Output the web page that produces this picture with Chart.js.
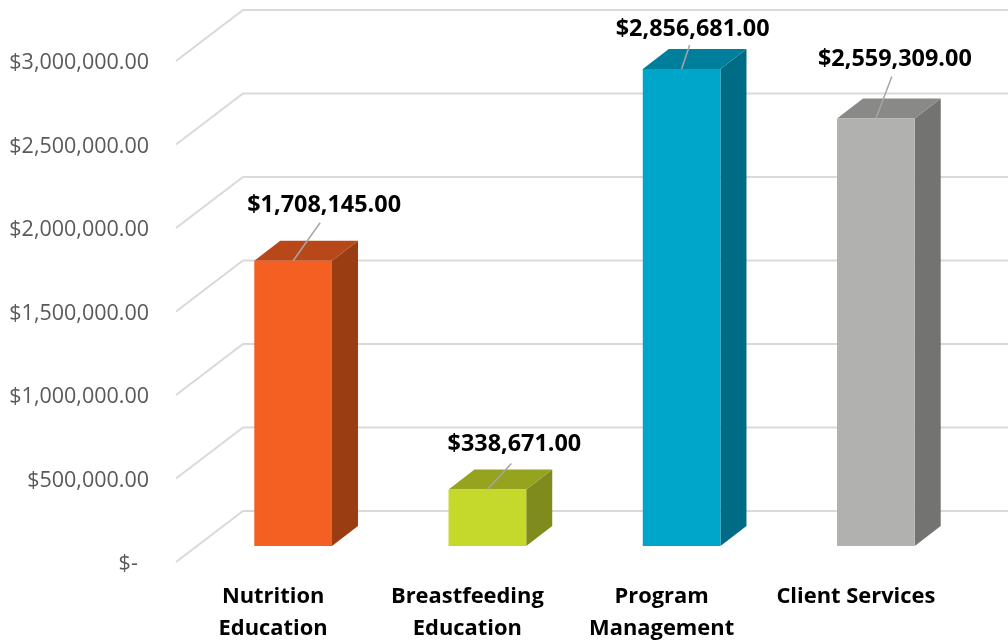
<!DOCTYPE html>
<html>
<head>
<meta charset="utf-8">
<style>html,body{margin:0;padding:0;background:#fff}canvas{display:block}</style>
<script src="https://cdn.jsdelivr.net/npm/chart.js@4"></script>
</head>
<body>
<canvas id="c" width="1008" height="640"></canvas>
<script>
const categories = [['Nutrition','Education'],['Breastfeeding','Education'],['Program','Management'],['Client Services']];
const values = [1708145, 338671, 2856681, 2559309];
const tickValues = [0, 500000, 1000000, 1500000, 2000000, 2500000, 3000000];
const frontColors = ['#F36021','#C5D92D','#00A6CA','#B1B1AF'];
const topColors = ['#B8481A','#95A31F','#007F9C','#898987'];
const sideColors = ['#9B3D12','#7F8B1C','#006B84','#737371'];
// callout placement relative to each bar's top centre
const labelOffsets = [[31,-55],[27,-45],[11,-40],[19,-59]];
const leaderEnds = [[27,-38],[24,-26],[8,-24],[16,-42]];

const FONT = '"Open Sans"';
const BAR_SHIFT = 20, BAR_DX = 26, BAR_DY = 20, WALL_DX = 67, WALL_DY = 51;
const FLOOR_SHIFT = 95808;  // the front floor edge sits 16px below the bar base
const LABEL_SHIFT = 107784; // the tick labels sit 18px below the bar base

const scene = {
  id: 'scene',
  beforeDatasetsDraw(chart) {
    const ctx = chart.ctx, y = chart.scales.y, left = chart.chartArea.left;
    ctx.save();
    ctx.strokeStyle = '#D9D9D9';
    ctx.lineWidth = 2;
    tickValues.forEach(v => {
      const p = y.getPixelForValue(v - FLOOR_SHIFT);
      ctx.beginPath();
      ctx.moveTo(left, p);
      ctx.lineTo(left + WALL_DX, p - WALL_DY);
      ctx.lineTo(chart.width, p - WALL_DY);
      ctx.stroke();
    });
    ctx.restore();
    ctx.save();
    ctx.translate(BAR_SHIFT, 0);
    chart.getDatasetMeta(0).data.forEach((b, i) => {
      const l = b.x - b.width / 2, r = b.x + b.width / 2, t = b.y, base = b.base;
      ctx.fillStyle = sideColors[i];
      ctx.beginPath();
      ctx.moveTo(r, t); ctx.lineTo(r + BAR_DX, t - BAR_DY);
      ctx.lineTo(r + BAR_DX, base - BAR_DY); ctx.lineTo(r, base);
      ctx.closePath(); ctx.fill();
      ctx.fillStyle = topColors[i];
      ctx.beginPath();
      ctx.moveTo(l, t); ctx.lineTo(l + BAR_DX, t - BAR_DY);
      ctx.lineTo(r + BAR_DX, t - BAR_DY); ctx.lineTo(r, t);
      ctx.closePath(); ctx.fill();
    });
  },
  afterDatasetsDraw(chart) {
    const ctx = chart.ctx;
    ctx.restore();
    ctx.save();
    chart.getDatasetMeta(0).data.forEach((b, i) => {
      const cx = b.x + BAR_SHIFT, t = b.y;
      ctx.strokeStyle = '#A6A6A6';
      ctx.lineWidth = 1.5;
      ctx.beginPath();
      ctx.moveTo(cx, t);
      ctx.lineTo(cx + leaderEnds[i][0], t + leaderEnds[i][1]);
      ctx.stroke();
      ctx.fillStyle = '#000';
      ctx.font = 'bold 23.4px ' + FONT;
      ctx.textAlign = 'center';
      ctx.textBaseline = 'middle';
      const s = '$' + values[i].toLocaleString('en-US', {minimumFractionDigits: 2, maximumFractionDigits: 2});
      ctx.fillText(s, cx + labelOffsets[i][0], t + labelOffsets[i][1]);
    });
    ctx.restore();
  }
};

new Chart(document.getElementById('c'), {
  type: 'bar',
  data: {
    labels: categories,
    datasets: [{
      data: values,
      backgroundColor: frontColors,
      xAxisID: 'x',
      yAxisID: 'y',
      barPercentage: 0.4,
      categoryPercentage: 1
    }]
  },
  plugins: [scene],
  options: {
    responsive: false,
    animation: false,
    layout: {padding: {top: 45, right: 55, left: 0, bottom: 0}},
    plugins: {legend: {display: false}, tooltip: {enabled: false}, title: {display: false}},
    scales: {
      x: {
        type: 'category',
        grid: {display: false},
        border: {display: false},
        afterFit(s) { s.height = 76; },
        ticks: {
          autoSkip: false, maxRotation: 0, minRotation: 0, padding: 9,
          color: '#000',
          font: {family: FONT, size: 21.9, weight: 'bold', lineHeight: 1.46}
        }
      },
      y: {
        display: false,
        min: -LABEL_SHIFT,
        max: 3000000
      },
      yl: {
        position: 'left',
        min: 0,
        max: 3000000 + LABEL_SHIFT,
        grid: {display: false, drawTicks: false},
        border: {display: false},
        afterFit(s) { s.width = 176; },
        afterBuildTicks(s) { s.ticks = tickValues.map(v => ({value: v})); },
        ticks: {
          padding: 27,
          color: '#595959',
          font: {family: FONT, size: 21.5},
          callback(v) {
            return v === 0 ? '$-  ' : '$' + v.toLocaleString('en-US', {minimumFractionDigits: 2, maximumFractionDigits: 2});
          }
        }
      }
    }
  }
});
</script>
</body>
</html>
